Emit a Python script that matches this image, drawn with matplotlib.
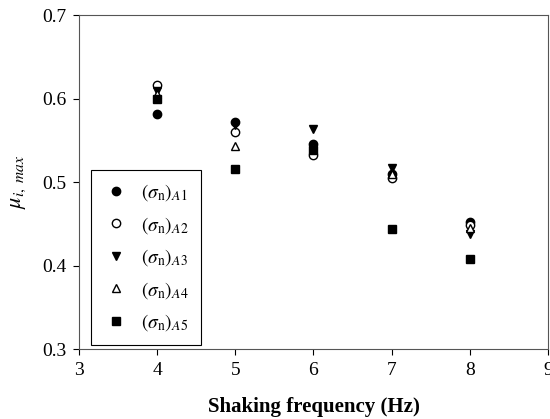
import matplotlib.pyplot as plt
import numpy as np

plt.rcParams['font.family'] = ['Liberation Serif', 'DejaVu Serif']
plt.rcParams['mathtext.fontset'] = 'stix'

freq = [4, 5, 6, 7, 8]
mu_a1 = [0.581, 0.572, 0.545, 0.510, 0.452]
mu_a2 = [0.616, 0.560, 0.532, 0.505, 0.448]
mu_a3 = [0.609, 0.568, 0.564, 0.517, 0.438]
mu_a4 = [0.605, 0.543, 0.540, 0.510, 0.445]
mu_a5 = [0.600, 0.516, 0.538, 0.444, 0.408]

labels = [r'$(\sigma_{\mathrm{n}})_{\mathit{A1}}$', r'$(\sigma_{\mathrm{n}})_{\mathit{A2}}$',
          r'$(\sigma_{\mathrm{n}})_{\mathit{A3}}$', r'$(\sigma_{\mathrm{n}})_{\mathit{A4}}$',
          r'$(\sigma_{\mathrm{n}})_{\mathit{A5}}$']

fig = plt.figure(figsize=(5.5, 4.19), dpi=100)
ax = fig.add_axes([0.1436, 0.167, 0.8528, 0.797])

ax.plot(freq, mu_a1, 'o', color='black', markersize=6, label=labels[0])
ax.plot(freq, mu_a2, 'o', color='black', markerfacecolor='white', markersize=6, label=labels[1])
ax.plot(freq, mu_a3, 'v', color='black', markersize=6, label=labels[2])
ax.plot(freq, mu_a4, '^', color='black', markerfacecolor='white', markersize=5.5, label=labels[3])
ax.plot(freq, mu_a5, 's', color='black', markersize=5.5, label=labels[4])

ax.set_xlim(3, 9)
ax.set_ylim(0.3, 0.7)
ax.set_xticks([3, 4, 5, 6, 7, 8, 9])
ax.set_yticks([0.3, 0.4, 0.5, 0.6, 0.7])
ax.set_yticklabels(['0.3', '0.4', '0.5', '0.6', '0.7'])
ax.tick_params(direction='out', length=4, labelsize=14, top=False, right=False, pad=5)
for s in ax.spines.values():
    s.set_color('#555555')

ax.set_xlabel('Shaking frequency (Hz)', fontsize=15, fontweight='bold', labelpad=13)
ax.set_ylabel(r'$\mu_{i,\ max}$', fontsize=16, labelpad=10)

leg = ax.legend(loc='lower left', bbox_to_anchor=(0.025, 0.012), borderaxespad=0,
                fancybox=False, edgecolor='black', framealpha=1, fontsize=14,
                handletextpad=0.6, labelspacing=0.6, borderpad=0.6, handlelength=1.4)
leg.get_frame().set_linewidth(0.8)

fig.savefig('out.png', dpi=100)
